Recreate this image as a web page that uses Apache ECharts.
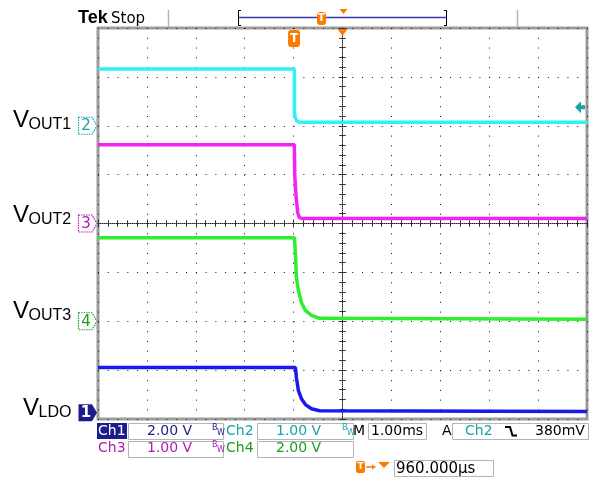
<!DOCTYPE html>
<html><head><meta charset="utf-8">
<script src="https://cdn.jsdelivr.net/npm/echarts@6/dist/echarts.min.js"></script>
<style>html,body{margin:0;padding:0;background:#fff}#c{width:594px;height:492px}</style>
</head><body><div id="c"></div>
<script>
// ---- data (time in ms relative to screen centre, values in volts) ----
const timeRangeMs = [-5, 5];          // 10 div x 1.00 ms/div
const divRange = [-4, 4];             // 8 vertical divisions
const ch2T = [-5, -0.984, -0.984, -0.964, -0.943, -0.881, 5];
const ch2V = [1.16, 1.16, 0.28, 0.16, 0.11, 0.07, 0.07];
const ch3T = [-5, -0.984, -0.977, -0.949, -0.916, -0.881, -0.820, 5];
const ch3V = [1.61, 1.61, 1.00, 0.55, 0.22, 0.12, 0.10, 0.10];
const ch4T = [-5, -0.984, -0.963, -0.943, -0.902, -0.840, -0.758, -0.635, -0.471, 5];
const ch4V = [3.42, 3.42, 2.78, 1.80, 1.26, 0.77, 0.44, 0.24, 0.12, 0.08];
const ch1T = [-5, -0.963, -0.943, -0.902, -0.840, -0.758, -0.635, -0.471, 5];
const ch1V = [1.85, 1.85, 1.44, 0.90, 0.57, 0.33, 0.16, 0.08, 0.05];
const channelNames = ['Ch1', 'Ch2', 'Ch3', 'Ch4'];
const voltsPerDiv = [2, 1, 1, 2];
const scaleLabels = ['2.00 V', '1.00 V', '1.00 V', '2.00 V'];
const groundDivs = [-3.87, 2.0, 0.0, -2.0];
const signalNames = [['V', 'LDO'], ['V', 'OUT1'], ['V', 'OUT2'], ['V', 'OUT3']];
const timebaseLabel = '1.00ms';
const triggerSource = 'Ch2';
const triggerLevelLabel = '380mV';
const triggerLevelV = 0.38;
const triggerDelayLabel = '960.000µs';
const triggerDelayMs = 0.96;

// ---- styles ----
const traceColors = ['#1a1aee', '#2ef2f8', '#f522f5', '#2eee2e'];
const textColors = ['#1c1c8c', '#1aa3a8', '#b01cb0', '#1c9e1c'];
const ORANGE = '#ff7a00';
const GRID = {left: 98, top: 28, width: 489, height: 391};

const chTimes = [ch1T, ch2T, ch3T, ch4T];
const chVals = [ch1V, ch2V, ch3V, ch4V];

const chart = echarts.init(document.getElementById('c'));

function axisBase(extra) {
  return Object.assign({type: 'value', min: timeRangeMs[0], max: timeRangeMs[1], interval: 1,
    axisLabel: {show: false}, splitLine: {show: false}, axisLine: {show: false}}, extra);
}
function yBase(extra) {
  return Object.assign({type: 'value', min: divRange[0], max: divRange[1], interval: 1,
    axisLabel: {show: false}, splitLine: {show: false}, axisLine: {show: false}}, extra);
}
const tickStyle = {color: '#333', width: 1};
const dotted = {color: '#111', width: 1, type: [1, 8.78]};

const series = [1, 2, 3, 0].map(i => ({
  type: 'line', name: channelNames[i], xAxisIndex: 0, yAxisIndex: 0,
  showSymbol: false, symbol: 'none', animation: false, clip: true,
  lineStyle: {color: traceColors[i], width: 3.5},
  data: chTimes[i].map((t, k) => [t, groundDivs[i] + chVals[i][k] / voltsPerDiv[i]])
}));

chart.setOption({
  animation: false,
  backgroundColor: '#fff',
  grid: Object.assign({show: true, borderColor: '#9c9c9c', borderWidth: 3, backgroundColor: '#fff', containLabel: false, outerBoundsMode: 'none'}, GRID),
  xAxis: [
    axisBase({position: 'bottom', axisTick: {show: true, inside: true, length: 4, lineStyle: tickStyle},
      minorTick: {show: true, splitNumber: 5, length: 3, lineStyle: tickStyle},
      splitLine: {show: true, lineStyle: dotted}}),
    axisBase({position: 'top', axisTick: {show: true, inside: true, length: 4, lineStyle: tickStyle},
      minorTick: {show: true, splitNumber: 5, length: 3, lineStyle: tickStyle}}),
    axisBase({position: 'bottom', offset: -GRID.height / 2,
      axisLine: {show: true, lineStyle: {color: '#222', width: 1, type: [1, 1]}},
      axisTick: {show: true, inside: true, length: 3, lineStyle: tickStyle},
      minorTick: {show: true, splitNumber: 5, length: 3, lineStyle: tickStyle}}),
    axisBase({position: 'bottom', offset: -GRID.height / 2,
      axisTick: {show: true, inside: false, length: 3, lineStyle: tickStyle},
      minorTick: {show: true, splitNumber: 5, length: 3, lineStyle: tickStyle}})
  ],
  yAxis: [
    yBase({position: 'left', axisTick: {show: true, inside: true, length: 4, lineStyle: tickStyle},
      minorTick: {show: true, splitNumber: 5, length: 3, lineStyle: tickStyle},
      splitLine: {show: true, lineStyle: dotted}}),
    yBase({position: 'right', axisTick: {show: true, inside: true, length: 4, lineStyle: tickStyle},
      minorTick: {show: true, splitNumber: 5, length: 3, lineStyle: tickStyle}}),
    yBase({position: 'left', offset: -GRID.width / 2,
      axisLine: {show: true, lineStyle: {color: '#222', width: 1, type: [1, 1]}},
      axisTick: {show: true, inside: true, length: 3, lineStyle: tickStyle},
      minorTick: {show: true, splitNumber: 5, length: 3, lineStyle: tickStyle}}),
    yBase({position: 'left', offset: -GRID.width / 2,
      axisTick: {show: true, inside: false, length: 3, lineStyle: tickStyle},
      minorTick: {show: true, splitNumber: 5, length: 3, lineStyle: tickStyle}})
  ],
  series: series
});

// ---- annotations (scope chrome) ----
const px = (t, d) => chart.convertToPixel({xAxisIndex: 0, yAxisIndex: 0}, [t, d]);
const g = [];
const FONT = '"DejaVu Sans", sans-serif';
const ARIAL = '"Liberation Sans", Arial, sans-serif';
function txt(x, y, s, size, color, opts) {
  g.push(Object.assign({type: 'text', x: x, y: y, z: 100,
    style: Object.assign({text: s, fill: color, font: size + 'px ' + FONT, verticalAlign: 'middle', align: 'left'}, (opts || {}).style || {})},
    (opts || {}).el || {}));
}
function box(x, y, w, h, fill) {
  g.push({type: 'rect', z: 90, shape: {x: x + 0.5, y: y + 0.5, width: w, height: h},
    style: {fill: fill || '#fff', stroke: '#b4b4b4', lineWidth: 1}});
}
function bw(x, y, color) {
  txt(x, y - 3, 'B', 8, color);
  txt(x + 5, y + 2, 'W', 8, color);
}

// left signal labels + ground markers
const labelDy = [4.5, 3, 0.5, -1];
const labelX = [23, 13, 13, 13];
for (let i = 0; i < 4; i++) {
  const gy = px(0, groundDivs[i])[1];
  const base = gy + labelDy[i];
  g.push({type: 'text', x: labelX[i], y: base - 8.4, z: 100,
    style: {text: signalNames[i][0], fill: '#000', font: '24px ' + ARIAL, verticalAlign: 'middle'}});
  g.push({type: 'text', x: labelX[i] + 15.5, y: base + 1 - 5.6, z: 100,
    style: {text: signalNames[i][1], fill: '#000', font: '16px ' + ARIAL, verticalAlign: 'middle'}});
  const pts = [[78.5, gy - 8.5], [92, gy - 8.5], [97, gy], [92, gy + 8.5], [78.5, gy + 8.5]];
  if (i === 0) {
    g.push({type: 'polygon', z: 95, shape: {points: pts}, style: {fill: textColors[0]}});
    g.push({type: 'text', x: 86, y: gy + 0.5, z: 100, style: {text: '1', fill: '#fff', font: 'bold 15px ' + FONT, align: 'center', verticalAlign: 'middle'}});
  } else {
    g.push({type: 'polygon', z: 95, shape: {points: pts}, style: {fill: '#fff', stroke: textColors[i], lineWidth: 1.2, lineDash: [1.5, 1]}});
    g.push({type: 'text', x: 86, y: gy + 0.5, z: 100, style: {text: String(i + 1), fill: textColors[i], font: '15px ' + FONT, align: 'center', verticalAlign: 'middle'}});
  }
}

// trigger level marker (right side)
{
  const ty = px(0, groundDivs[1] + triggerLevelV / voltsPerDiv[1])[1];
  g.push({type: 'polygon', z: 95, shape: {points: [[575, ty], [581, ty - 6], [581, ty - 2], [585, ty - 2], [585, ty + 2], [581, ty + 2], [581, ty + 6]]},
    style: {fill: textColors[1]}});
}

// trigger marker & centre marker on top of graticule
{
  const tx = px(-triggerDelayMs, 0)[0] - 1.5;
  const cx = px(0, 0)[0];
  g.push({type: 'rect', z: 95, shape: {x: tx - 6, y: 30, width: 12, height: 17, r: 3}, style: {fill: ORANGE}});
  g.push({type: 'text', x: tx, y: 38.5, z: 100, style: {text: 'T', fill: '#fff', font: 'bold 12px ' + FONT, align: 'center', verticalAlign: 'middle'}});
  g.push({type: 'polygon', z: 95, shape: {points: [[cx - 5, 29], [cx + 5, 29], [cx, 36]]}, style: {fill: ORANGE}});
}

// top bar
g.push({type: 'text', x: 78, y: 17.7, z: 100, style: {text: 'Tek', fill: '#000', font: 'bold 18px ' + ARIAL, verticalAlign: 'middle'}});
txt(111, 18.8, 'Stop', 15, '#000');
g.push({type: 'line', z: 90, shape: {x1: 168.5, y1: 10, x2: 168.5, y2: 27}, style: {stroke: '#b4b4b4', lineWidth: 1.5}});
g.push({type: 'line', z: 90, shape: {x1: 517.5, y1: 10, x2: 517.5, y2: 27}, style: {stroke: '#b4b4b4', lineWidth: 1.5}});
g.push({type: 'line', z: 90, shape: {x1: 239, y1: 17.5, x2: 447, y2: 17.5}, style: {stroke: '#3a3ab0', lineWidth: 1.5}});
g.push({type: 'polyline', z: 91, shape: {points: [[241, 10.5], [238.5, 10.5], [238.5, 25.5], [241, 25.5]]}, style: {stroke: '#000', lineWidth: 1, fill: null}});
g.push({type: 'polyline', z: 91, shape: {points: [[444, 10.5], [446.5, 10.5], [446.5, 25.5], [444, 25.5]]}, style: {stroke: '#000', lineWidth: 1, fill: null}});
g.push({type: 'rect', z: 95, shape: {x: 317, y: 12, width: 9, height: 13, r: 3}, style: {fill: ORANGE}});
g.push({type: 'text', x: 321.5, y: 18.5, z: 100, style: {text: 'T', fill: '#fff', font: 'bold 10px ' + FONT, align: 'center', verticalAlign: 'middle'}});
g.push({type: 'polygon', z: 95, shape: {points: [[339.5, 9], [347.5, 9], [343.5, 14]]}, style: {fill: ORANGE}});

// readouts row 1
const r1 = 431.2, r2 = 448.2, r3 = 468.8;
g.push({type: 'rect', z: 90, shape: {x: 97, y: 423, width: 30, height: 16}, style: {fill: textColors[0]}});
txt(98, r1, channelNames[0], 14, '#fff');
box(128, 423, 95, 16); txt(147, r1, scaleLabels[0], 14, textColors[0]);
bw(212, r1, textColors[0]);
txt(226, r1, channelNames[1], 14, textColors[1]);
box(257, 423, 96, 16); txt(276, r1, scaleLabels[1], 14, textColors[1]);
bw(342, r1, textColors[1]);
txt(353, r1, 'M', 14, '#000');
box(368, 423, 58, 16); txt(371, r1, timebaseLabel, 14, '#000');
txt(442, r1, 'A', 14, '#000');
box(452, 423, 136, 16); txt(465, r1, triggerSource, 14, textColors[1]);
g.push({type: 'polyline', z: 100, shape: {points: [[505, 427], [510, 427], [512.5, 435.5], [517, 435.5]]}, style: {stroke: '#000', lineWidth: 2, fill: null}});
txt(535, r1, triggerLevelLabel, 14, '#000');
// row 2
txt(98, r2, channelNames[2], 14, textColors[2]);
box(128, 441, 95, 16); txt(147, r2, scaleLabels[2], 14, textColors[2]);
bw(212, r2, textColors[2]);
txt(226, r2, channelNames[3], 14, textColors[3]);
box(257, 441, 96, 16); txt(276, r2, scaleLabels[3], 14, textColors[3]);
// row 3
g.push({type: 'rect', z: 95, shape: {x: 356, y: 461, width: 9, height: 12, r: 2}, style: {fill: ORANGE}});
g.push({type: 'text', x: 360.5, y: 467, z: 100, style: {text: 'T', fill: '#fff', font: 'bold 9px ' + FONT, align: 'center', verticalAlign: 'middle'}});
g.push({type: 'line', z: 95, shape: {x1: 366, y1: 467, x2: 374, y2: 467}, style: {stroke: ORANGE, lineWidth: 1.5}});
g.push({type: 'polygon', z: 95, shape: {points: [[372, 464.5], [376, 467], [372, 469.5]]}, style: {fill: ORANGE}});
g.push({type: 'polygon', z: 95, shape: {points: [[378, 462], [390, 462], [384, 468]]}, style: {fill: ORANGE}});
box(394, 460, 99, 16); txt(396, r3, triggerDelayLabel, 15, '#000');

chart.setOption({graphic: {elements: g}});
</script>
</body></html>
